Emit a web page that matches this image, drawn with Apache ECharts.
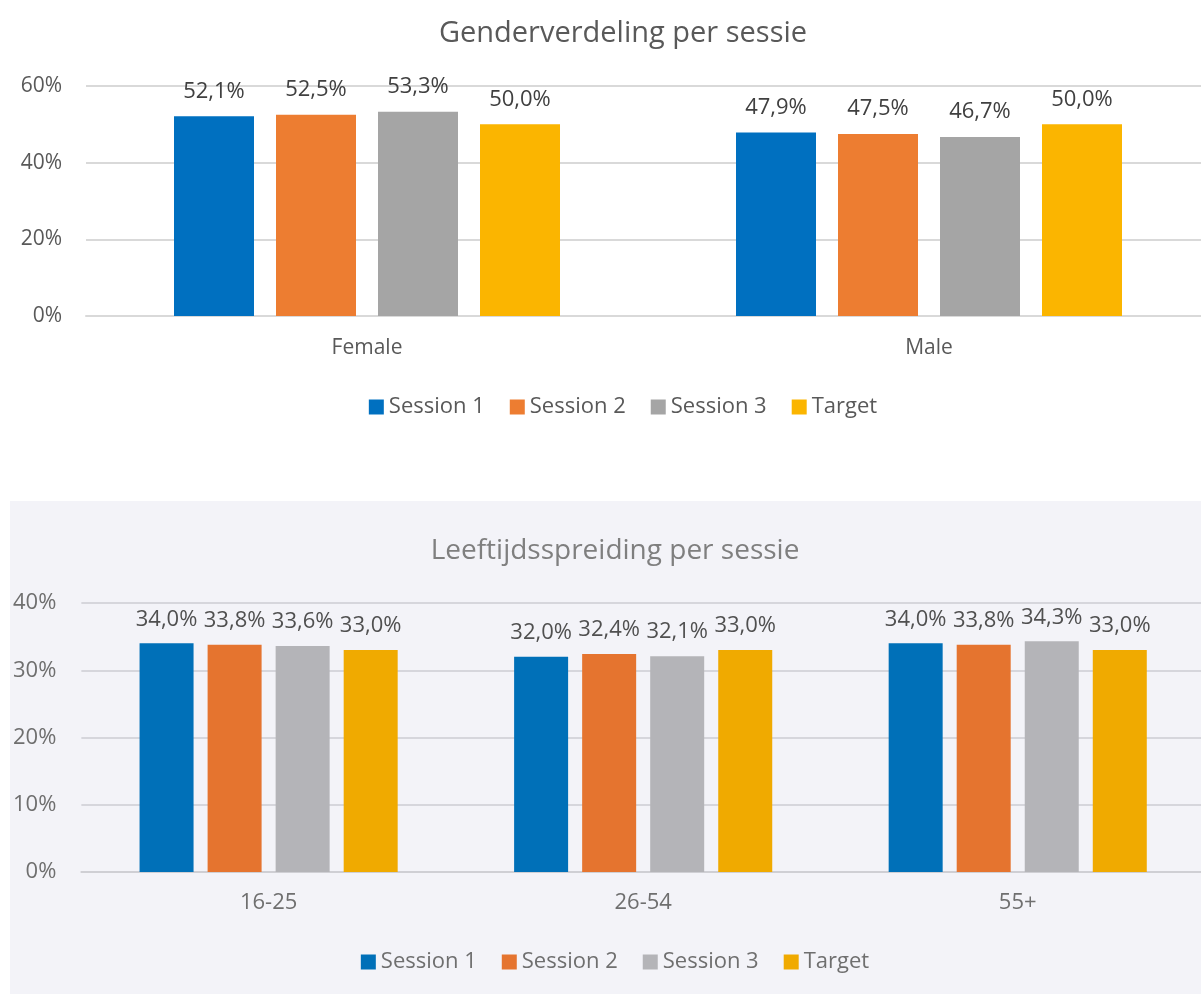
<!DOCTYPE html>
<html>
<head>
<meta charset="utf-8">
<script src="https://cdn.jsdelivr.net/npm/echarts@6/dist/echarts.min.js"></script>
<style>
  html, body { margin: 0; background: #fff; overflow: hidden; width: 1201px; height: 994px; }
  #genderChart { position: absolute; left: 0; top: 0; width: 1246px; height: 500px; }
  #ageChart { position: absolute; left: 10px; top: 501px; width: 1210px; height: 493px; background: #f3f3f8; }
</style>
</head>
<body>
<div id="genderChart"></div>
<div id="ageChart"></div>
<script>
// data
const seriesNames = ['Session 1', 'Session 2', 'Session 3', 'Target']
const genderCategories = ['Female', 'Male']
const genderS1 = [52.1, 47.9]
const genderS2 = [52.5, 47.5]
const genderS3 = [53.3, 46.7]
const genderTarget = [50.0, 50.0]
const ageCategories = ['16-25', '26-54', '55+']
const ageS1 = [34.0, 32.0, 34.0]
const ageS2 = [33.8, 32.4, 33.8]
const ageS3 = [33.6, 32.1, 34.3]
const ageTarget = [33.0, 33.0, 33.0]

const fontFam = 'Open Sans, Noto Sans, sans-serif'
const pct = v => v.toFixed(1).replace('.', ',') + '%'

function makeSeries (values, colors, barWidth, barGap, labelColor, labelDist, labelSize) {
  return values.map((vals, i) => ({
    name: seriesNames[i],
    type: 'bar',
    data: vals,
    barWidth: barWidth,
    barGap: barGap,
    itemStyle: { color: colors[i] },
    label: {
      show: true,
      position: 'top',
      distance: labelDist,
      color: labelColor,
      fontSize: labelSize,
      fontFamily: fontFam,
      formatter: p => pct(p.value)
    }
  }))
}

// top chart: gender
const genderColors = ['#0070c0', '#ed7d31', '#a5a5a5', '#fbb500']
let genderChart = echarts.init(document.getElementById('genderChart'))
genderChart.setOption({
  animation: false,
  title: {
    text: 'Genderverdeling per sessie',
    left: 'center',
    top: 14,
    textStyle: { color: '#595959', fontSize: 29, fontWeight: 'normal', fontFamily: fontFam }
  },
  legend: {
    data: seriesNames,
    bottom: 77,
    left: 'center',
    itemWidth: 15,
    itemHeight: 15,
    itemGap: 25,
    icon: 'rect',
    textStyle: { color: '#595959', fontSize: 22, fontFamily: fontFam }
  },
  grid: { left: 86, right: 36, top: 86, bottom: 184 },
  xAxis: {
    type: 'category',
    data: genderCategories,
    axisLine: { lineStyle: { color: '#d9d9d9', width: 2 } },
    axisTick: { show: false },
    axisLabel: { color: '#595959', fontSize: 21, fontFamily: fontFam, margin: 22 }
  },
  yAxis: {
    type: 'value',
    min: 0,
    max: 60,
    interval: 20,
    axisLabel: { formatter: '{value}%', color: '#595959', fontSize: 21, fontFamily: fontFam, margin: 24 },
    splitLine: { lineStyle: { color: '#d9d9d9', width: 2 } }
  },
  series: makeSeries([genderS1, genderS2, genderS3, genderTarget], genderColors, 80, '27.5%', '#404040', 14, 22)
})

// bottom chart: age
const ageColors = ['#0070b8', '#e5742f', '#b4b4b8', '#f0aa00']
let ageChart = echarts.init(document.getElementById('ageChart'))
ageChart.setOption({
  animation: false,
  title: {
    text: 'Leeftijdsspreiding per sessie',
    left: 'center',
    top: 31,
    textStyle: { color: '#7f7f7f', fontSize: 28, fontWeight: 'normal', fontFamily: fontFam }
  },
  legend: {
    data: seriesNames,
    bottom: 16,
    left: 'center',
    itemWidth: 15,
    itemHeight: 15,
    itemGap: 25,
    icon: 'rect',
    textStyle: { color: '#6f6f6f', fontSize: 22, fontFamily: fontFam }
  },
  grid: { left: 70, right: 15, top: 102, bottom: 122 },
  xAxis: {
    type: 'category',
    data: ageCategories,
    axisLine: { lineStyle: { color: '#cfcfd4', width: 2 } },
    axisTick: { show: false },
    axisLabel: { color: '#6f6f6f', fontSize: 22, fontFamily: fontFam, margin: 20 }
  },
  yAxis: {
    type: 'value',
    min: 0,
    max: 40,
    interval: 10,
    axisLabel: { formatter: '{value}%', color: '#6f6f6f', fontSize: 22, fontFamily: fontFam, margin: 25 },
    splitLine: { lineStyle: { color: '#d6d6dc', width: 2 } }
  },
  series: makeSeries([ageS1, ageS2, ageS3, ageTarget], ageColors, 54, '26%', '#505050', 13, 22)
})
</script>
</body>
</html>
